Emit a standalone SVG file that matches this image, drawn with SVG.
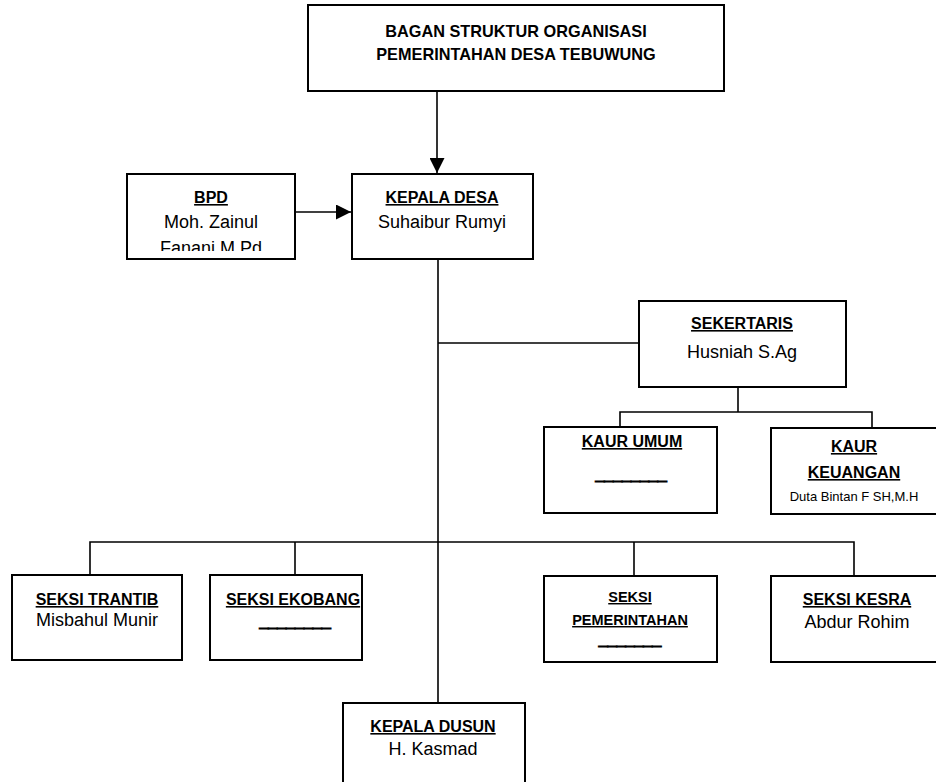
<svg xmlns="http://www.w3.org/2000/svg" width="936" height="782" viewBox="0 0 936 782">
<style>
.box{fill:#fff;stroke:#000;stroke-width:2}
.ln{fill:none;stroke:#000;stroke-width:1.6}
text{font-family:"Liberation Sans",Arial,sans-serif;fill:#000;text-anchor:middle}
.h{font-weight:bold;font-size:16px;text-decoration:underline}
.t{font-weight:bold;font-size:16.3px}
.n{font-size:18px}
.b{font-weight:bold;font-size:16px;stroke:#000;stroke-width:1.4}
</style>
<defs>
<marker id="arr" viewBox="0 0 10 10" refX="10" refY="5" markerWidth="15" markerHeight="15" markerUnits="userSpaceOnUse" orient="auto">
<path d="M0,0 L10,5 L0,10 Z" fill="#000"/>
</marker>
<clipPath id="bpdclip"><rect x="127" y="174" width="168" height="77"/></clipPath>
</defs>
<rect width="936" height="782" fill="#fff"/>
<g id="connectors">
<line class="ln" x1="437" y1="91" x2="437" y2="173" marker-end="url(#arr)"/>
<line class="ln" x1="295" y1="212" x2="351" y2="212" marker-end="url(#arr)"/>
<line class="ln" x1="438" y1="259" x2="438" y2="703"/>
<line class="ln" x1="438" y1="343" x2="639" y2="343"/>
<polyline class="ln" points="738,387 738,412"/>
<polyline class="ln" points="620,427 620,412 872,412 872,428"/>
<polyline class="ln" points="90,575 90,542 854,542 854,576"/>
<line class="ln" x1="295" y1="542" x2="295" y2="575"/>
<line class="ln" x1="634" y1="542" x2="634" y2="576"/>
</g>
<g id="title">
<rect class="box" x="308" y="5" width="416" height="86"/>
<text class="t" x="516" y="37">BAGAN STRUKTUR ORGANISASI</text>
<text class="t" x="516" y="60">PEMERINTAHAN DESA TEBUWUNG</text>
</g>
<g id="bpd">
<rect class="box" x="127" y="174" width="168" height="85"/>
<text class="h" x="211" y="203">BPD</text>
<text class="n" x="211" y="228">Moh. Zainul</text>
<text class="n" x="211" y="254" clip-path="url(#bpdclip)">Fanani M.Pd</text>
</g>
<g id="kepala-desa">
<rect class="box" x="352" y="174" width="181" height="85"/>
<text class="h" x="442" y="203">KEPALA DESA</text>
<text class="n" x="442" y="228">Suhaibur Rumyi</text>
</g>
<g id="sekertaris">
<rect class="box" x="639" y="301" width="207" height="86"/>
<text class="h" x="742" y="329">SEKERTARIS</text>
<text class="n" x="742" y="358">Husniah S.Ag</text>
</g>
<g id="kaur-umum">
<rect class="box" x="544" y="427" width="173" height="86"/>
<text class="h" x="632" y="447">KAUR UMUM</text>
<text class="b" x="631" y="480">________</text>
</g>
<g id="kaur-keuangan">
<rect class="box" x="771" y="428" width="168" height="86"/>
<text class="h" x="854" y="452">KAUR</text>
<text class="h" x="854" y="478">KEUANGAN</text>
<text x="854" y="501" style="font-size:13px">Duta Bintan F SH,M.H</text>
</g>
<g id="seksi-trantib">
<rect class="box" x="12" y="575" width="170" height="85"/>
<text class="h" x="97" y="605">SEKSI TRANTIB</text>
<text class="n" x="97" y="626">Misbahul Munir</text>
</g>
<g id="seksi-ekobang">
<rect class="box" x="210" y="575" width="152" height="85"/>
<text class="h" x="293" y="605">SEKSI EKOBANG</text>
<text class="b" x="295" y="627">________</text>
</g>
<g id="seksi-pemerintahan">
<rect class="box" x="544" y="576" width="173" height="86"/>
<text class="h" x="630" y="602" style="font-size:14.5px">SEKSI</text>
<text class="h" x="630" y="625" style="font-size:14.5px">PEMERINTAHAN</text>
<text class="b" x="630" y="645">_______</text>
</g>
<g id="seksi-kesra">
<rect class="box" x="771" y="576" width="168" height="86"/>
<text class="h" x="857" y="605">SEKSI KESRA</text>
<text class="n" x="857" y="628">Abdur Rohim</text>
</g>
<g id="kepala-dusun">
<rect class="box" x="343" y="703" width="182" height="100"/>
<text class="h" x="433" y="732">KEPALA DUSUN</text>
<text class="n" x="433" y="755">H. Kasmad</text>
</g>
</svg>
